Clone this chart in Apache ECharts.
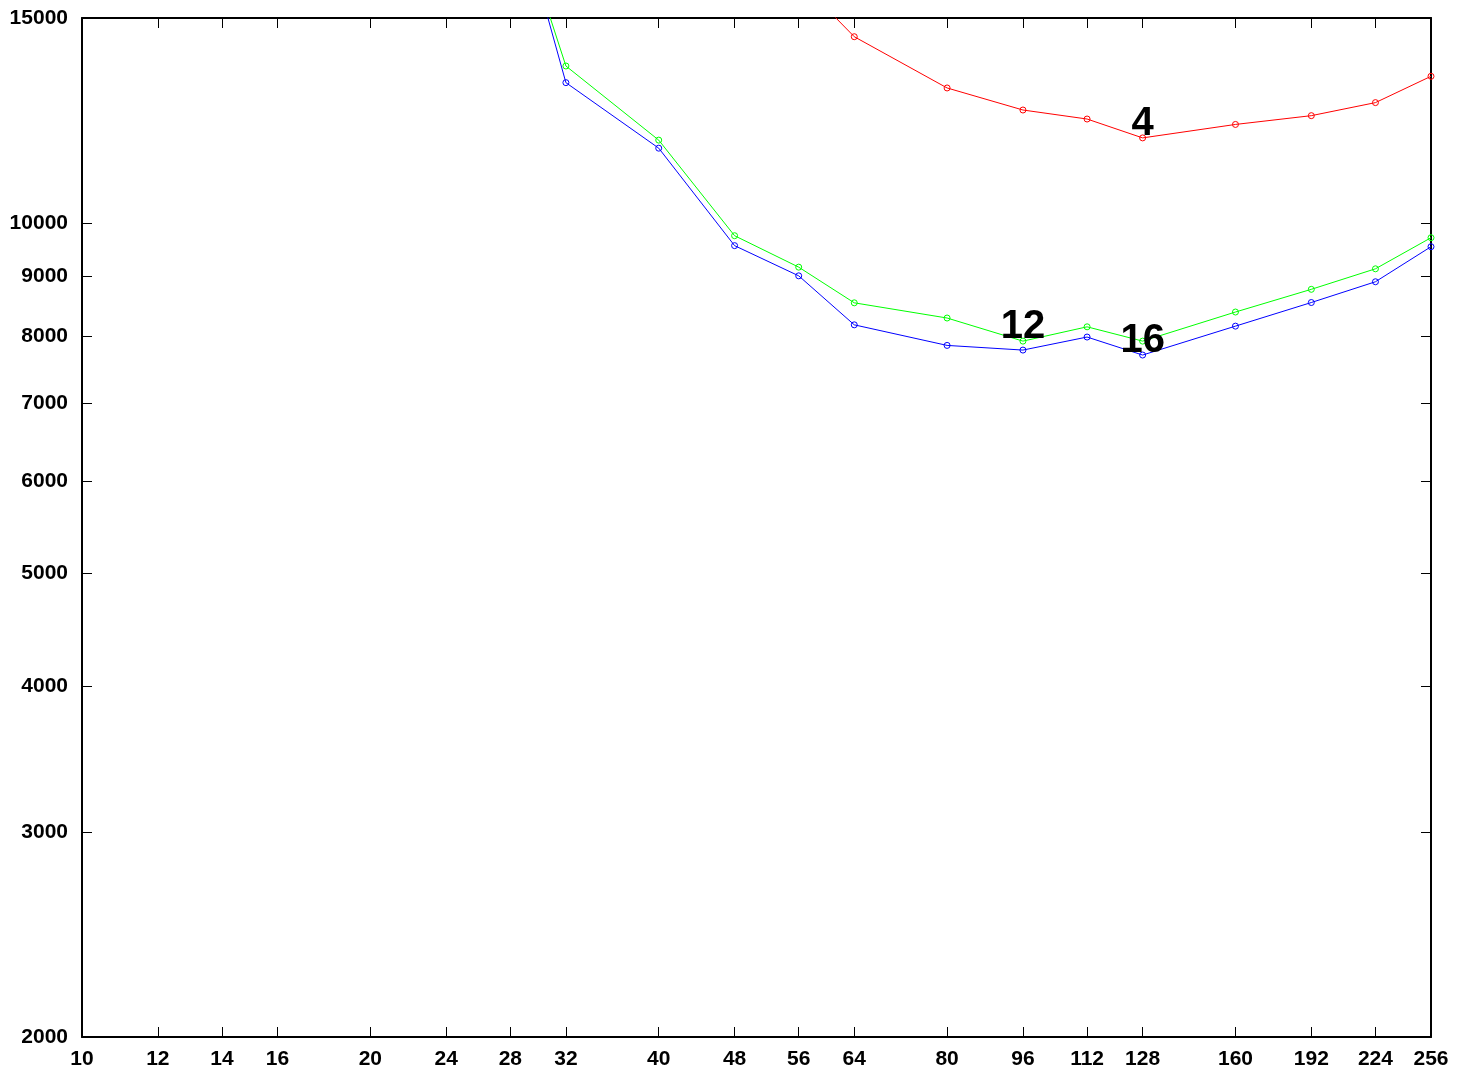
<!DOCTYPE html>
<html>
<head>
<meta charset="utf-8">
<script src="https://cdn.jsdelivr.net/npm/echarts@6/dist/echarts.min.js"></script>
<style>
html,body{margin:0;padding:0;background:#fff;}
#chart{width:1468px;height:1072px;}
</style>
</head>
<body>
<div id="chart"></div>
<script>
// x values (shared by all series)
const xRed = [56, 64, 80, 96, 112, 128, 160, 192, 224, 256];
const yRed = [16170, 14455, 13062, 12505, 12284, 11834, 12153, 12366, 12689, 13367];

const xGreen = [28, 32, 40, 48, 56, 64, 80, 96, 112, 128, 160, 192, 224, 256];
const yGreen = [19125, 13642, 11782, 9753, 9165, 8541, 8288, 7918, 8145, 7918, 8387, 8772, 9135, 9714];

const xBlue = [28, 32, 40, 48, 56, 64, 80, 96, 112, 128, 160, 192, 224, 256];
const yBlue = [19600, 13200, 11596, 9563, 9009, 8177, 7851, 7779, 7982, 7703, 8156, 8546, 8904, 9543];

// curve labels and the x value of the point each one sits on
const seriesNames = ['4', '12', '16'];
const labelAtX = [128, 96, 128];

const xTicks = [10, 12, 14, 16, 20, 24, 28, 32, 40, 48, 56, 64, 80, 96, 112, 128, 160, 192, 224, 256];
const yTicks = [2000, 3000, 4000, 5000, 6000, 7000, 8000, 9000, 10000, 15000];

const FONT = '"Liberation Sans", Arial, Helvetica, sans-serif';

function build(xs, ys, name, labelX) {
  return xs.map((x, i) => {
    const item = { value: [x, ys[i]] };
    if (x === labelX) {
      item.label = {
        show: true,
        formatter: name,
        position: 'inside',
        offset: [0, -14],
        fontSize: 40,
        fontWeight: 'bold',
        fontFamily: FONT,
        color: '#000'
      };
    }
    return item;
  });
}

function mkSeries(xs, ys, name, labelX, color) {
  return {
    type: 'line',
    name: name,
    data: build(xs, ys, name, labelX),
    symbol: 'circle',
    symbolSize: 6,
    showAllSymbol: true,
    clip: true,
    lineStyle: { color: color, width: 1 },
    itemStyle: { color: 'rgba(0,0,0,0)', borderColor: color, borderWidth: 1 },
    emphasis: { disabled: true },
    label: { show: false },
    z: 3
  };
}

const axisLine = { show: true, onZero: false, lineStyle: { color: '#000', width: 2 } };
const tick = (vals) => ({ show: true, inside: true, length: 10, customValues: vals, lineStyle: { color: '#000', width: 1 } });
const lblStyle = { fontSize: 21, fontWeight: 'bold', fontFamily: FONT, color: '#000' };

const chart = echarts.init(document.getElementById('chart'), null, { renderer: 'canvas' });
chart.setOption({
  animation: false,
  backgroundColor: '#fff',
  grid: { left: 82, right: 37, top: 18, bottom: 35, containLabel: false },
  xAxis: [
    {
      type: 'log', logBase: 10, min: 10, max: 256, position: 'bottom',
      axisLine: axisLine, axisTick: tick(xTicks), splitLine: { show: false },
      axisLabel: Object.assign({ show: true, margin: 12, customValues: xTicks,
        formatter: v => String(Math.round(v)) }, lblStyle)
    },
    {
      type: 'log', logBase: 10, min: 10, max: 256, position: 'top',
      axisLine: axisLine, axisTick: tick(xTicks), splitLine: { show: false },
      axisLabel: { show: false }
    }
  ],
  yAxis: [
    {
      type: 'log', logBase: 10, min: 2000, max: 15000, position: 'left',
      axisLine: axisLine, axisTick: tick(yTicks), splitLine: { show: false },
      axisLabel: Object.assign({ show: true, margin: 14, customValues: yTicks,
        formatter: v => String(Math.round(v)) }, lblStyle)
    },
    {
      type: 'log', logBase: 10, min: 2000, max: 15000, position: 'right',
      axisLine: axisLine, axisTick: tick(yTicks), splitLine: { show: false },
      axisLabel: { show: false }
    }
  ],
  series: [
    mkSeries(xRed, yRed, seriesNames[0], labelAtX[0], '#ff0000'),
    mkSeries(xGreen, yGreen, seriesNames[1], labelAtX[1], '#00ff00'),
    mkSeries(xBlue, yBlue, seriesNames[2], labelAtX[2], '#0000ff')
  ]
});
</script>
</body>
</html>
